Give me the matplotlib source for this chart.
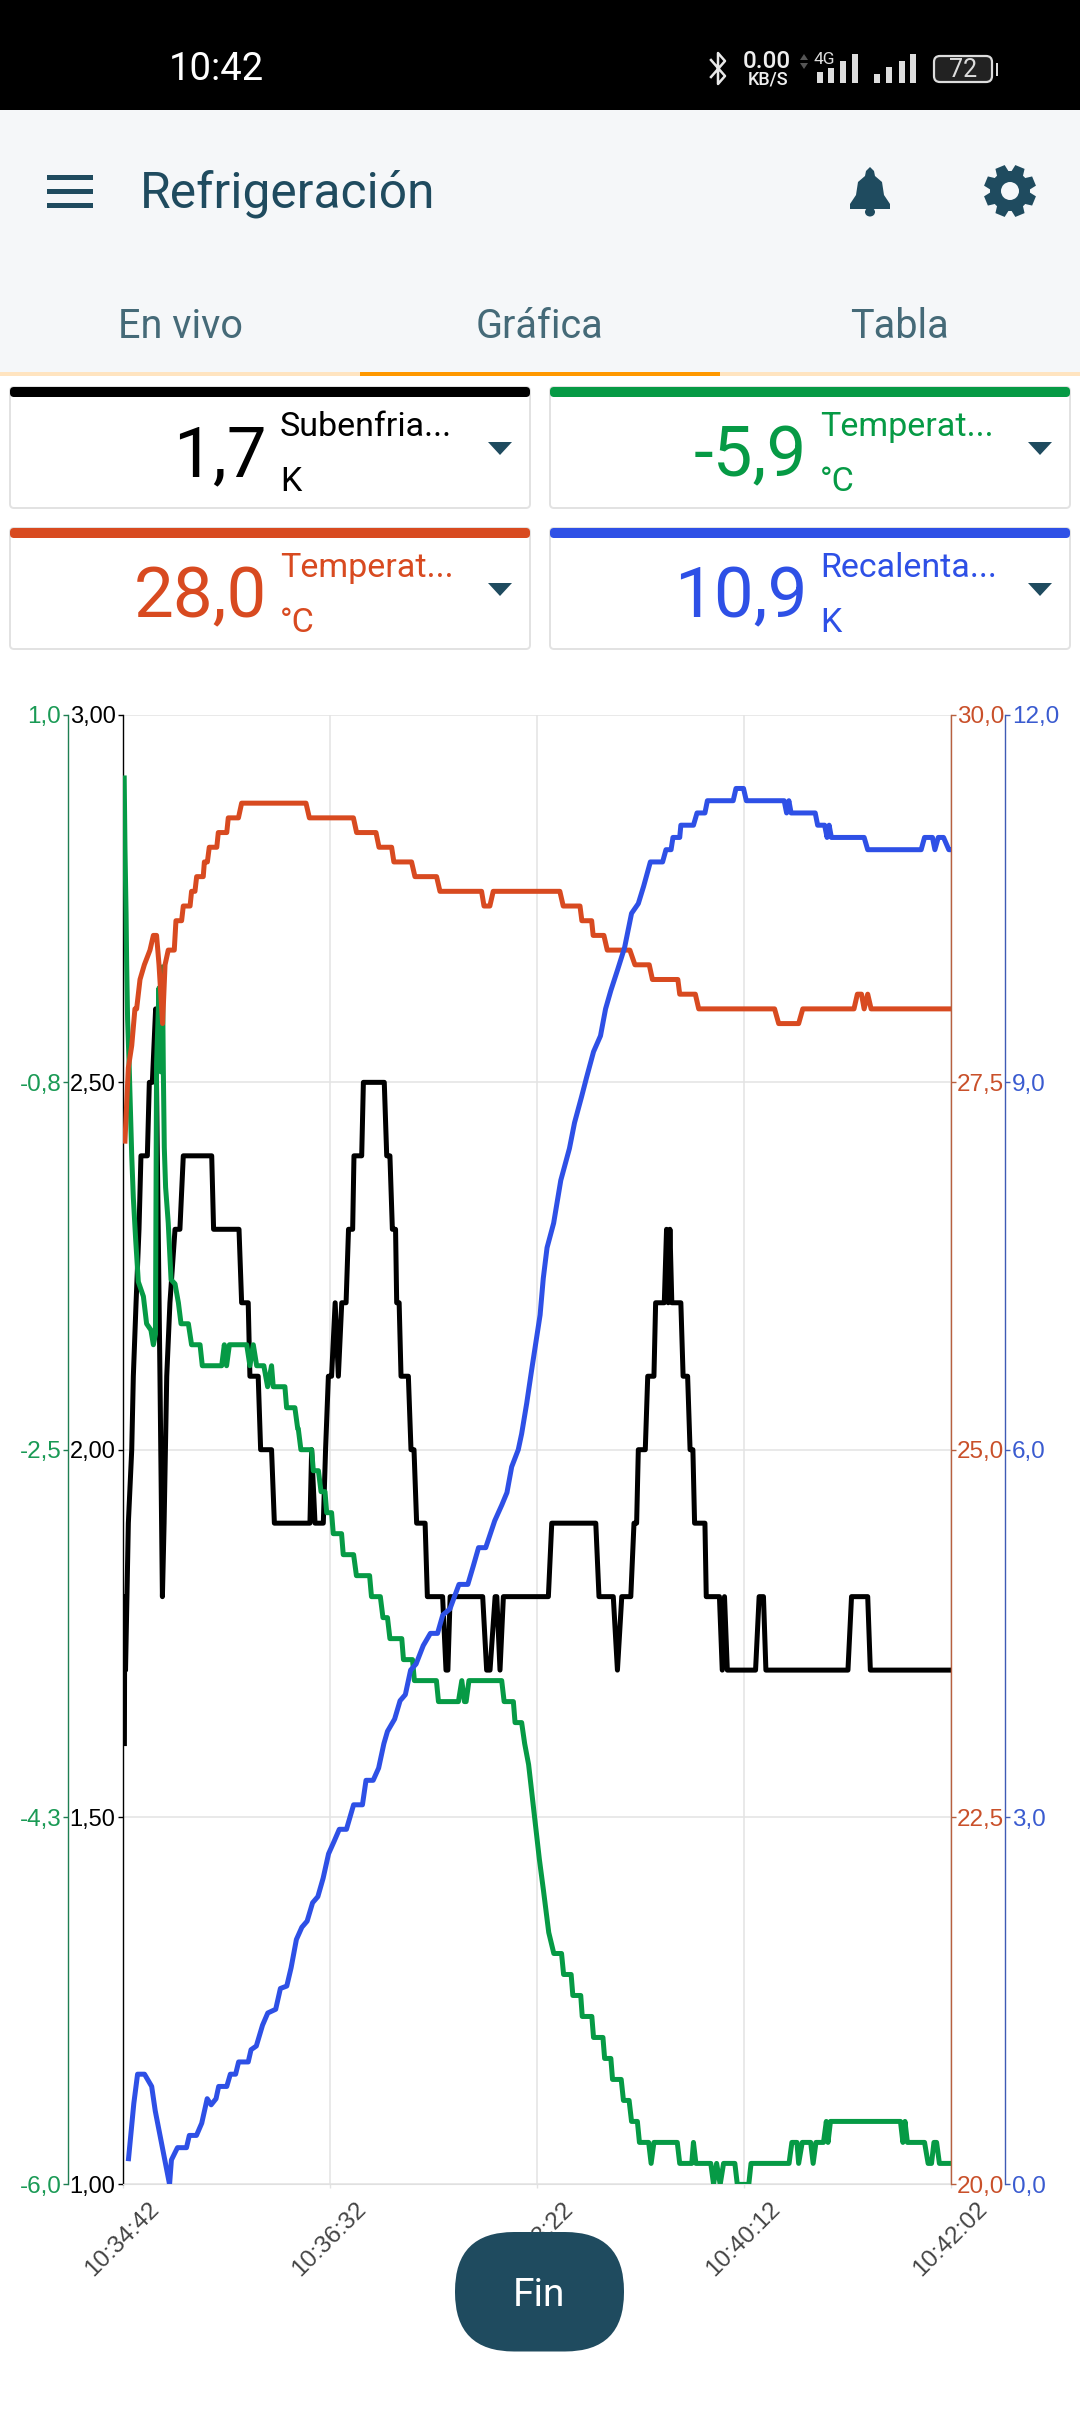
import numpy as np
import matplotlib
matplotlib.use("Agg")
import matplotlib.pyplot as plt
from matplotlib.patches import Rectangle, FancyBboxPatch, Polygon, Circle, Ellipse

plt.rcParams['font.family'] = ['Roboto', 'DejaVu Sans']

# seconds from 10:34:42, value
black = [(0.9,1.6),(1.1,1.8),(1.5,1.7),(3.0,1.9),(4.8,2.0),(5.65,2.1),(7.1,2.2),(8.66,2.3),(9.7,2.4),(13.1,2.4),
         (14.15,2.5),(15.75,2.5),(17.5,2.6),(19.8,2.1),(21.1,1.8),(22.0,1.9),(23.4,2.1),(25.1,2.2),(27.8,2.3),(30.4,2.3),
         (32.2,2.4),(47.3,2.4),(48.3,2.3),(61.8,2.3),(63.2,2.2),(66.7,2.2),(67.6,2.1),(72.0,2.1),(73.3,2.0),(79.1,2.0),
         (80.6,1.9),(99.5,1.9),(100.4,2.0),(102.2,1.9),(106.6,1.9),(107.8,2.0),(109.3,2.1),(111.0,2.1),(112.9,2.2),(114.6,2.1),
         (116.4,2.2),(118.7,2.2),(120.0,2.3),(122.2,2.3),(122.9,2.4),(127.0,2.4),(127.9,2.5),(139.0,2.5),(140.3,2.4),(142.0,2.4),
         (143.3,2.3),(145.0,2.3),(145.6,2.2),(146.9,2.2),(147.9,2.1),(151.8,2.1),(153.2,2.0),(154.8,2.0),(156.2,1.9),(160.7,1.9),
         (161.9,1.8),(170.0,1.8),(171.8,1.7),(172.8,1.7),(174.0,1.8),(191.3,1.8),(193.4,1.7),(195.2,1.7),(197.9,1.8),(198.8,1.8),
         (200.5,1.7),(202.3,1.8),(226.2,1.8),(228.0,1.9),(251.4,1.9),(253.1,1.8),(260.7,1.8),(262.9,1.7),(265.2,1.8),(270.0,1.8),
         (271.7,1.9),(273.1,1.9),(274.0,2.0),(277.7,2.0),(279.0,2.1),(282.3,2.1),(283.2,2.2),(287.8,2.2),(289.0,2.3),(289.9,2.2),
         (290.8,2.3),(291.8,2.2),(296.6,2.2),(297.8,2.1),(300.2,2.1),(301.5,2.0),(303.0,2.0),(303.9,1.9),(309.4,1.9),(310.1,1.8),
         (317.1,1.8),(318.6,1.7),(319.8,1.8),(321.3,1.7),(336.3,1.7),(338.2,1.8),(340.5,1.8),(341.8,1.7),(385.4,1.7),(387.3,1.8),
         (395.9,1.8),(397.3,1.7),(440.0,1.7)]

green = [(0.8,0.7),(1.2,0.37),(1.8,0.05),(2.1,-0.18),(2.6,-0.45),(3.4,-0.66),(3.9,-0.82),(4.8,-1.1),(5.65,-1.3),(6.9,-1.5),
         (8.3,-1.7),(11.0,-1.77),(12.7,-1.9),(15.0,-1.93),(16.3,-2.0),(17.4,-1.95),(17.7,-1.3),(18.0,-0.66),(19.3,-0.3),(20.3,-0.7),
         (21.1,-0.2),(21.6,-0.7),(22.1,-1.06),(22.8,-1.25),(24.2,-1.42),(25.7,-1.69),(27.8,-1.71),(29.6,-1.8),(31.0,-1.9),(34.9,-1.9),
         (36.6,-2.0),(41.1,-2.0),(42.3,-2.1),(52.6,-2.1),(54.0,-2.0),(55.2,-2.1),(56.7,-2.0),(65.9,-2.0),(67.6,-2.1),(69.4,-2.0),
         (71.2,-2.1),(75.0,-2.1),(77.0,-2.2),(79.1,-2.1),(80.0,-2.2),(86.2,-2.2),(87.1,-2.3),(91.5,-2.3),(93.0,-2.4),(93.3,-2.4),
         (94.7,-2.5),(100.4,-2.5),(101.3,-2.6),(104.0,-2.6),(105.4,-2.7),(107.5,-2.7),(108.4,-2.8),(111.0,-2.8),(111.9,-2.9),(116.3,-2.9),
         (117.2,-3.0),(122.7,-3.0),(124.2,-3.1),(131.2,-3.1),(132.2,-3.2),(136.9,-3.2),(138.3,-3.3),(140.7,-3.3),(142.0,-3.4),(148.3,-3.4),
         (149.2,-3.5),(154.0,-3.5),(155.0,-3.6),(166.7,-3.6),(167.8,-3.7),(178.4,-3.7),(180.2,-3.6),(181.6,-3.7),(182.5,-3.7),(184.0,-3.6),
         (201.4,-3.6),(202.7,-3.7),(207.6,-3.7),(208.5,-3.8),(212.0,-3.8),(213.6,-3.9),(215.7,-4.0),(217.6,-4.15),(219.5,-4.3),(221.4,-4.45),
         (223.6,-4.6),(226.4,-4.8),(229.1,-4.9),(233.2,-4.9),(234.3,-5.0),(238.3,-5.0),(239.2,-5.1),(243.4,-5.1),(244.2,-5.2),(249.3,-5.2),
         (250.2,-5.3),(255.2,-5.3),(256.1,-5.4),(259.4,-5.4),(260.3,-5.5),(264.9,-5.5),(266.1,-5.6),(269.1,-5.6),(270.4,-5.7),(273.5,-5.7),
         (274.6,-5.8),(279.5,-5.8),(280.8,-5.9),(282.3,-5.8),(294.7,-5.8),(296.0,-5.9),(302.4,-5.9),(303.3,-5.8),(304.6,-5.9),(312.5,-5.9),
         (314.0,-6.0),(315.6,-5.9),(317.5,-6.0),(319.3,-5.9),(325.3,-5.9),(326.6,-6.0),(332.7,-6.0),(333.9,-5.9),(354.1,-5.9),(355.6,-5.8),
         (358.3,-5.8),(359.2,-5.9),(361.1,-5.8),(365.6,-5.8),(366.9,-5.9),(368.4,-5.8),(372.4,-5.8),(373.9,-5.7),(374.8,-5.8),(376.1,-5.7),
         (413.3,-5.7),(414.6,-5.8),(415.7,-5.7),(417.0,-5.8),(426.1,-5.8),(428.0,-5.9),(429.8,-5.9),(431.1,-5.8),(432.5,-5.8),(434.0,-5.9),
         (440.0,-5.9)]

red = [(1.2,27.1),(2.1,27.35),(3.0,27.6),(4.8,27.75),(6.5,28.0),(7.4,28.0),(9.2,28.2),(11.5,28.3),(14.5,28.4),(16.3,28.5),
       (18.0,28.5),(19.3,28.3),(21.2,27.9),(22.5,28.3),(24.2,28.4),(27.4,28.4),(28.3,28.6),(31.3,28.6),(32.2,28.7),(35.8,28.7),
       (36.6,28.8),(38.4,28.8),(39.3,28.9),(42.8,28.9),(43.4,29.0),(45.0,29.0),(46.0,29.1),(50.0,29.1),(50.8,29.2),(55.3,29.2),
       (56.1,29.3),(61.5,29.3),(63.2,29.4),(97.4,29.4),(99.2,29.3),(122.6,29.3),(124.3,29.2),(134.6,29.2),(136.2,29.1),(142.9,29.1),
       (144.1,29.0),(153.5,29.0),(155.3,28.9),(166.8,28.9),(168.6,28.8),(190.7,28.8),(192.0,28.7),(195.1,28.7),(196.9,28.8),(232.3,28.8),
       (234.1,28.7),(243.0,28.7),(244.0,28.6),(249.2,28.6),(250.0,28.5),(255.7,28.5),(257.5,28.4),(269.5,28.4),(272.2,28.3),(279.8,28.3),
       (281.5,28.2),(295.0,28.2),(296.0,28.1),(304.3,28.1),(306.1,28.0),(346.4,28.0),(348.6,27.9),(359.2,27.9),(361.4,28.0),(388.6,28.0),
       (390.4,28.1),(392.6,28.1),(394.0,28.0),(395.9,28.1),(397.7,28.0),(440.0,28.0)]

blue = [(3.1,0.21),(5.9,0.66),(7.9,0.9),(11.6,0.9),(15.4,0.8),(17.3,0.6),(24.9,0.0),(25.9,0.2),(29.1,0.3),(33.9,0.3),
        (35.4,0.4),(39.2,0.4),(42.0,0.5),(44.9,0.7),(47.0,0.65),(49.6,0.7),(51.0,0.8),(55.3,0.8),(57.2,0.9),(60.0,0.9),
        (61.6,1.0),(66.7,1.0),(68.2,1.1),(71.0,1.13),(74.3,1.3),(77.1,1.4),(81.3,1.43),(83.8,1.6),(87.2,1.62),(89.5,1.77),
        (92.3,2.0),(95.2,2.1),(98.0,2.15),(100.9,2.3),(103.7,2.35),(106.5,2.5),(109.4,2.7),(112.3,2.8),(115.1,2.9),(118.9,2.9),
        (122.7,3.1),(127.4,3.1),(129.3,3.3),(133.1,3.3),(136.0,3.4),(138.8,3.6),(140.7,3.7),(144.5,3.8),(147.4,3.95),(150.2,4.0),
        (153.0,4.2),(155.9,4.25),(159.7,4.4),(163.5,4.5),(167.3,4.5),(170.1,4.65),(173.9,4.7),(178.7,4.9),(183.4,4.9),(186.3,5.05),
        (189.1,5.2),(192.9,5.2),(197.7,5.42),(201.5,5.55),(204.2,5.65),(206.7,5.86),(210.2,6.0),(212.0,6.13),(214.7,6.38),(217.3,6.65),
        (220.0,6.92),(221.8,7.1),(223.5,7.4),(225.5,7.65),(229.0,7.85),(232.8,8.2),(237.4,8.46),(240.1,8.67),(243.8,8.88),(246.5,9.04),
        (250.2,9.25),(253.9,9.38),(256.6,9.6),(259.4,9.75),(263.0,9.92),(266.7,10.1),(270.4,10.38),(274.0,10.46),(276.8,10.6),(280.4,10.8),
        (286.9,10.8),(288.7,10.9),(291.4,10.9),(292.4,11.0),(296.0,11.0),(296.6,11.1),(303.3,11.1),(305.2,11.2),(309.4,11.2),(310.7,11.3),
        (324.4,11.3),(325.9,11.4),(329.9,11.4),(331.4,11.3),(351.5,11.3),(352.8,11.2),(354.0,11.3),(355.2,11.2),(368.0,11.2),(369.3,11.1),
        (373.0,11.1),(374.3,11.0),(375.4,11.1),(376.6,11.0),(394.0,11.0),(395.9,10.9),(424.3,10.9),(426.1,11.0),(430.3,11.0),(431.6,10.9),
        (433.4,11.0),(436.2,11.0),(439.0,10.9),(440.0,10.9)]

x_ticks = [0, 110, 220, 330, 440]
x_labels = ['10:34:42', '10:36:32', '10:38:22', '10:40:12', '10:42:02']
black_ticks = [1.0, 1.5, 2.0, 2.5, 3.0]
black_labels = ['1,00', '1,50', '2,00', '2,50', '3,00']
green_ticks = [-6.0, -4.25, -2.5, -0.75, 1.0]
green_labels = ['-6,0', '-4,3', '-2,5', '-0,8', '1,0']
red_ticks = [20, 22.5, 25, 27.5, 30]
red_labels = ['20,0', '22,5', '25,0', '27,5', '30,0']
blue_ticks = [0, 3, 6, 9, 12]
blue_labels = ['0,0', '3,0', '6,0', '9,0', '12,0']

card_values = ['1,7', '-5,9', '28,0', '10,9']
card_names = ['Subenfria...', 'Temperat...', 'Temperat...', 'Recalenta...']
card_units = ['K', '°C', '°C', 'K']
tab_names = ['En vivo', 'Gráfica', 'Tabla']

BLACK = '#000000'
GREEN = '#069a45'
RED = '#d84a20'
BLUE = '#2e50e6'
DARK = '#1f4b5f'
TICK_FONT = 'Liberation Sans'
LW = 3.6

fig = plt.figure(figsize=(10.8, 24.12), dpi=100, facecolor='white')

# chart
ax = fig.add_axes([122.7/1080, 1-2184.4/2412, 828/1080, 1469.4/2412])
ax.set_xlim(0, 440)
ax.set_ylim(1, 3)
ax.set_xticks(x_ticks)
ax.set_xticklabels(x_labels, rotation=45, ha='center', color='#444444', fontsize=17.5, family=TICK_FONT)
ax.set_yticks(black_ticks)
ax.set_yticklabels(black_labels, fontsize=17, family=TICK_FONT, color='black')
ax.grid(color='#e3e3e3', linewidth=1.1)
ax.set_axisbelow(True)
ax.tick_params(axis='x', length=3, width=1, color='#e3e3e3', pad=7)
ax.tick_params(axis='y', length=3.6, width=1, pad=1.5)
for s in ['top', 'right']:
    ax.spines[s].set_visible(False)
ax.spines['bottom'].set_color('#e0e0e0')
ax.spines['left'].set_linewidth(1.0)
t, v = np.array(black).T
ax.plot(t, v, color=BLACK, lw=LW, solid_joinstyle='round')


def extra_axis(side, out, ylim, ticks, labels, line_color, text_color, z):
    a = ax.twinx()
    a.set_zorder(z)
    a.patch.set_visible(False)
    a.set_ylim(*ylim)
    for s in a.spines.values():
        s.set_visible(False)
    a.yaxis.set_ticks_position(side)
    a.yaxis.set_label_position(side)
    a.spines[side].set_visible(True)
    a.spines[side].set_position(('outward', out))
    a.spines[side].set_color(line_color)
    a.spines[side].set_linewidth(1.0)
    a.set_yticks(ticks)
    a.set_yticklabels(labels, fontsize=17.5, family=TICK_FONT, color=text_color)
    a.tick_params(axis='y', length=3.6, width=1, color=line_color, pad=1.0)
    return a


ax_g = extra_axis('left', 39.6, (-6, 1), green_ticks, green_labels, '#1f7f52', '#1a9a55', 2)
ax_r = extra_axis('right', 0, (20, 30), red_ticks, red_labels, '#b8603f', '#c9502a', 3)
ax_b = extra_axis('right', 39.4, (0, 12), blue_ticks, blue_labels, '#3f5bb5', '#3a5bd0', 4)

t, v = np.array(green).T
ax_g.plot(t, v, color=GREEN, lw=LW, solid_joinstyle='round')
t, v = np.array(red).T
ax_r.plot(t, v, color=RED, lw=LW, solid_joinstyle='round')
t, v = np.array(blue).T
ax_b.plot(t, v, color=BLUE, lw=LW, solid_joinstyle='round')

# app screen on top, in pixels
ui = fig.add_axes([0, 0, 1, 1], zorder=10)
ui.patch.set_visible(False)
ui.set_xlim(0, 1080)
ui.set_ylim(2412, 0)
ui.axis('off')


def rect(x0, y0, x1, y1, c):
    ui.add_patch(Rectangle((x0, y0), x1-x0, y1-y0, fc=c, ec='none'))


# status bar
rect(0, 0, 1080, 110, 'black')
ui.text(216, 69, '10:42', color='white', fontsize=27.5, ha='center', va='center')
ui.plot([711, 725, 718, 718, 725, 711], [60, 76, 84, 53, 61, 77], color='#e8e8e8', lw=1.8)
ui.text(767, 61, '0.00', color='#eeeeee', fontsize=17.5, ha='center', va='center', fontweight='medium')
ui.text(768, 80, 'KB/S', color='#eeeeee', fontsize=13, ha='center', va='center', fontweight='medium')
ui.add_patch(Polygon([(800, 60), (808, 60), (804, 54)], fc='#555555'))
ui.add_patch(Polygon([(800, 63), (808, 63), (804, 69)], fc='#555555'))
ui.text(824, 60, '4G', color='#dddddd', fontsize=12.5, ha='center', va='center')
for bx, by in zip([817, 828, 840, 852], [72, 68, 61, 54]):
    rect(bx, by, bx+6, 83, '#dddddd')
for bx, by in zip([874, 886, 899, 910], [74, 67, 61, 54]):
    rect(bx, by, bx+6, 83, '#dddddd')
ui.add_patch(FancyBboxPatch((934, 56), 58, 26, boxstyle='round,pad=0,rounding_size=6', fc='#222222', ec='#dddddd', lw=1.6))
rect(996, 63, 998, 76, '#dddddd')
ui.text(963, 70, '72', color='#dddddd', fontsize=18, ha='center', va='center')

# app bar and tabs
rect(0, 110, 1080, 372, '#f5f7f9')
rect(0, 372, 1080, 376, '#ffe4c0')
rect(360, 372, 720, 376, '#ff9800')
for hy in [177, 191, 205]:
    rect(47, hy-2.5, 93, hy+2.5, DARK)
ui.text(140, 207, 'Refrigeración', color=DARK, fontsize=35.8, ha='left', va='baseline')
ui.add_patch(Polygon([(870, 167), (874, 171), (875, 176), (882, 182), (884, 195), (890, 204), (890, 209),
                      (850, 209), (850, 204), (856, 195), (858, 182), (865, 176), (866, 171)], fc=DARK, ec='none'))
ui.add_patch(Ellipse((870, 212), 10, 9, fc=DARK, ec='none'))
ang = np.deg2rad(np.arange(0, 360, 45))
for a0 in ang:
    ca, sa = np.cos(a0 + np.pi/8), np.sin(a0 + np.pi/8)
    ui.add_patch(Polygon([(1010 + 14*ca - 7*sa, 191 + 14*sa + 7*ca), (1010 + 26*ca - 5*sa, 191 + 26*sa + 5*ca),
                          (1010 + 26*ca + 5*sa, 191 + 26*sa - 5*ca), (1010 + 14*ca + 7*sa, 191 + 14*sa - 7*ca)], fc=DARK, ec='none'))
ui.add_patch(Circle((1010, 191), 20, fc=DARK, ec='none'))
ui.add_patch(Circle((1010, 191), 9, fc='#f5f7f9', ec='none'))
for tx, name in zip([180, 539, 899], tab_names):
    ui.text(tx, 327, name, color='#456a78', fontsize=28.5, ha='center', va='center')

# value cards
card_colors = [BLACK, GREEN, RED, BLUE]
card_x = [10, 550, 10, 550]
card_y = [387, 387, 528, 528]
for cx, cy, col, val, name, unit in zip(card_x, card_y, card_colors, card_values, card_names, card_units):
    ui.add_patch(FancyBboxPatch((cx, cy), 520, 121, boxstyle='round,pad=0,rounding_size=4', fc='white', ec='#e2e2e2', lw=1.4))
    ui.add_patch(FancyBboxPatch((cx, cy), 520, 10, boxstyle='round,pad=0,rounding_size=4', fc=col, ec='none'))
    ui.text(cx+257, cy+89, val, color=col, fontsize=51, ha='right', va='baseline')
    ui.text(cx+270, cy+49, name, color=col, fontsize=24.5, ha='left', va='baseline')
    ui.text(cx+270, cy+104, unit, color=col, fontsize=24.5, ha='left', va='baseline')
    ui.add_patch(Polygon([(cx+478, cy+55), (cx+502, cy+55), (cx+490, cy+68)], fc=DARK, ec='none'))

# button
ui.add_patch(FancyBboxPatch((455, 2232), 169, 119.5, boxstyle='round,pad=0,rounding_size=59', fc=DARK, ec='none'))
ui.text(539, 2295, 'Fin', color='white', fontsize=28, ha='center', va='center')

fig.savefig('out.png', dpi=100)
